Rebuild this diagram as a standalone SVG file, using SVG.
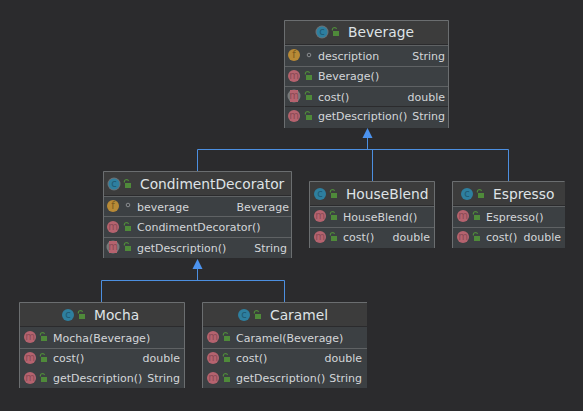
<svg xmlns="http://www.w3.org/2000/svg" width="583" height="411" viewBox="0 0 583 411">
<style>
text{font-family:"DejaVu Sans",sans-serif;fill:#d3d6d9}
.t{font-size:13.800px;fill:#dfe3e6}
.m{font-size:11px}
.r{font-size:11px;text-anchor:end}
.l{font-size:10px;fill:#8a4a55;text-anchor:middle}
.lc{font-size:10px;fill:#1f5a73;text-anchor:middle}
.lf{font-size:10px;fill:#7a5a20;text-anchor:middle}
.body{fill:#3c4043}
.head{fill:#3c3c3c}
.box{fill:none;stroke:#6b6e70;stroke-width:1}
.sep{stroke:#5f6264;stroke-width:1}
.dark{stroke:#2b2b2d;stroke-width:1}
.con{fill:none;stroke:#4c8fe0;stroke-width:1}
</style>
<defs>
<g id="lock"><rect x="-2" y="-1" width="6" height="5" fill="#4f8a3a"/><path d="M-2.500-1.500a2 2 0 0 1 4-1.500" fill="none" stroke="#4f8a3a" stroke-width="1.200"/></g>
<g id="ic"><circle r="6" fill="#2e7f9f"/><text class="lc" y="3">c</text></g>
<g id="ia"><circle r="6.500" fill="#6c7073"/><circle r="5.500" fill="#2e7f9f"/><text class="lc" y="3">c</text></g>
<g id="im"><circle r="6" fill="#b5636f"/><text class="l" y="3">m</text></g>
<g id="iam"><circle r="6.500" fill="#777a7c"/><rect x="-4" y="-6" width="8" height="12" fill="#b5636f"/><text class="l" y="3">m</text></g>
<g id="if"><circle r="6" fill="#b88a36"/><text class="lf" y="3">f</text></g>
<circle id="pkg" r="1.800" fill="none" stroke="#8a8d90" stroke-width="1"/>
</defs>
<rect width="583" height="411" fill="#2b2b2d"/>
<g id="connectors">
<path class="con" d="M367.500 137V149.500M197.500 149.500H508.500V181M372.500 149.500V181M197.500 149.500V171"/>
<path d="M367.500 128L362.500 138H372.500Z" fill="#4c93ee"/>
<path class="con" d="M197.500 268V280.500M101.500 280.500H284.500M101.500 280.500V302M284.500 280.500V302"/>
<path d="M197.500 259L192.500 269H202.500Z" fill="#4c93ee"/>
</g>
<g id="Beverage">
<rect class="head" x="284" y="20" width="165" height="24"/><rect class="body" x="284" y="44" width="165" height="84"/>
<path class="box" d="M284.500 128V20.500H448.500V128"/>
<path class="dark" d="M285 44.500H448"/><path class="sep" d="M285 45.500H448M285 66.500H448M285 86.500H448"/><path class="dark" d="M285 106.500H448"/>
<use href="#ia" x="322" y="32"/><use href="#lock" x="335" y="32"/>
<text class="t" x="348" y="37">Beverage</text>
<use href="#if" x="294" y="55"/><use href="#pkg" x="309" y="55"/>
<text class="m" x="318" y="60">description</text><text class="r" x="445" y="60">String</text>
<use href="#im" x="294" y="76"/><use href="#lock" x="308" y="76"/>
<text class="m" x="318" y="80">Beverage()</text>
<use href="#iam" x="294" y="96"/><use href="#lock" x="308" y="96"/>
<text class="m" x="318" y="101">cost()</text><text class="r" x="445" y="101">double</text>
<use href="#im" x="294" y="116"/><use href="#lock" x="308" y="116"/>
<text class="m" x="318" y="120">getDescription()</text><text class="r" x="445" y="120">String</text>
</g>
<g id="CondimentDecorator">
<rect class="head" x="103" y="171" width="189" height="25"/><rect class="body" x="103" y="196" width="189" height="62"/>
<path class="box" d="M103.500 258V171.500H291.500V258"/>
<path class="dark" d="M104 195.500H291"/><path class="sep" d="M104 196.500H291M104 216.500H291M104 237.500H291"/>
<use href="#ia" x="114" y="184"/><use href="#lock" x="127" y="184"/>
<text class="t" x="140" y="189">CondimentDecorator</text>
<use href="#if" x="113" y="206"/><use href="#pkg" x="128" y="205"/>
<text class="m" x="137" y="211">beverage</text><text class="r" x="289" y="211">Beverage</text>
<use href="#im" x="113" y="227"/><use href="#lock" x="127" y="227"/>
<text class="m" x="137" y="231">CondimentDecorator()</text>
<use href="#iam" x="113" y="247"/><use href="#lock" x="127" y="247"/>
<text class="m" x="137" y="252">getDescription()</text><text class="r" x="287" y="252">String</text>
</g>
<g id="HouseBlend">
<rect class="head" x="309" y="181" width="126" height="25"/><rect class="body" x="309" y="206" width="126" height="42"/>
<path class="box" d="M309.500 248V181.500H434.500V248"/>
<path class="dark" d="M310 205.500H434"/><path class="sep" d="M310 206.500H434M310 227.500H434"/>
<use href="#ic" x="320" y="194"/><use href="#lock" x="333" y="194"/>
<text class="t" x="346" y="199">HouseBlend</text>
<use href="#im" x="320" y="216"/><use href="#lock" x="333" y="216"/>
<text class="m" x="343" y="221">HouseBlend()</text>
<use href="#im" x="320" y="237"/><use href="#lock" x="333" y="237"/>
<text class="m" x="343" y="241">cost()</text><text class="r" x="430" y="241">double</text>
</g>
<g id="Espresso">
<rect class="head" x="452" y="181" width="113" height="25"/><rect class="body" x="452" y="206" width="113" height="42"/>
<path class="box" d="M452.500 248V181.500H564.500"/>
<path class="dark" d="M453 205.500H565"/><path class="sep" d="M453 206.500H565M453 227.500H565"/>
<use href="#ic" x="467" y="194"/><use href="#lock" x="480" y="194"/>
<text class="t" x="493" y="199">Espresso</text>
<use href="#im" x="463" y="216"/><use href="#lock" x="476" y="216"/>
<text class="m" x="486" y="221">Espresso()</text>
<use href="#im" x="463" y="237"/><use href="#lock" x="476" y="237"/>
<text class="m" x="486" y="241">cost()</text><text class="r" x="561" y="241">double</text>
</g>
<g id="Mocha">
<rect class="head" x="19" y="302" width="166" height="25"/><rect class="body" x="19" y="327" width="166" height="61"/>
<path class="box" d="M19.500 388V302.500H184.500V388"/>
<path class="dark" d="M20 326.500H184"/><path class="sep" d="M20 348.500H184"/>
<use href="#ic" x="68" y="315"/><use href="#lock" x="81" y="315"/>
<text class="t" x="94" y="320">Mocha</text>
<use href="#im" x="30" y="337"/><use href="#lock" x="43" y="337"/>
<text class="m" x="53" y="342">Mocha(Beverage)</text>
<use href="#im" x="30" y="358"/><use href="#lock" x="43" y="358"/>
<text class="m" x="53" y="362">cost()</text><text class="r" x="180" y="362">double</text>
<use href="#im" x="30" y="378"/><use href="#lock" x="43" y="378"/>
<text class="m" x="53" y="382">getDescription()</text><text class="r" x="180" y="382">String</text>
</g>
<g id="Caramel">
<rect class="head" x="202" y="302" width="165" height="25"/><rect class="body" x="202" y="327" width="165" height="61"/>
<path class="box" d="M202.500 388V302.500H367"/>
<path class="dark" d="M203 326.500H367"/><path class="sep" d="M203 348.500H367"/>
<use href="#ic" x="244" y="315"/><use href="#lock" x="257" y="315"/>
<text class="t" x="270" y="320">Caramel</text>
<use href="#im" x="213" y="337"/><use href="#lock" x="226" y="337"/>
<text class="m" x="236" y="342">Caramel(Beverage)</text>
<use href="#im" x="213" y="358"/><use href="#lock" x="226" y="358"/>
<text class="m" x="236" y="362">cost()</text><text class="r" x="362" y="362">double</text>
<use href="#im" x="213" y="378"/><use href="#lock" x="226" y="378"/>
<text class="m" x="236" y="382">getDescription()</text><text class="r" x="362" y="382">String</text>
</g>
</svg>
